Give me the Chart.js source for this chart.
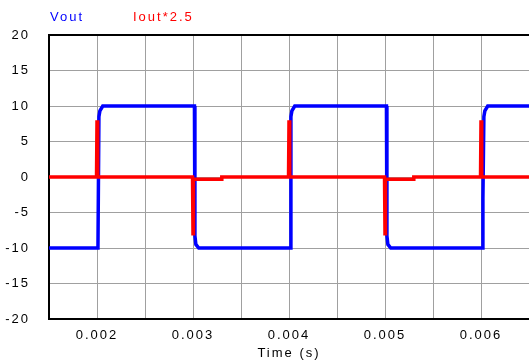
<!DOCTYPE html>
<html>
<head>
<meta charset="utf-8">
<script src="https://cdn.jsdelivr.net/npm/chart.js@4"></script>
<style>
    body { margin: 0; background: #fff; }
    #wrap { width: 529px; height: 363px; }
</style>
</head>
<body>
<div id="wrap"><canvas id="myChart" width="529" height="363"></canvas></div>
<script>
// Vout (blue) - time in seconds, value in volts
const voutTime = [0.0015, 0.00201, 0.00202, 0.00203, 0.00206, 0.003015, 0.00302, 0.00303, 0.00306,
    0.004015, 0.00402, 0.00403, 0.00406, 0.005015, 0.00502, 0.00503, 0.00506,
    0.006015, 0.00602, 0.00603, 0.00604, 0.00607, 0.0065]
const voutVal = [-10, -10, 8.5, 9.3, 10, 10, -8.3, -9.5, -10,
    -10, 8.5, 9.3, 10, 10, -8.3, -9.5, -10,
    -10, -3, 8.5, 9.3, 10, 10]

// Iout*2.5 (red)
const ioutTime = [0.0015, 0.001995, 0.002, 0.002005, 0.00201, 0.002995, 0.003, 0.003005, 0.0033, 0.0033,
    0.003995, 0.004, 0.004005, 0.00401, 0.004995, 0.005, 0.005005, 0.0053, 0.0053,
    0.005995, 0.006, 0.006005, 0.00601, 0.0065]
const ioutVal = [0, 0, 8, 2.5, 0, 0, -8, -0.3, -0.3, 0,
    0, 8, 2, 0, 0, -8, -0.3, -0.3, 0,
    0, 8, 2, 0, 0]

const xTicks = [0.0015, 0.002, 0.0025, 0.003, 0.0035, 0.004, 0.0045, 0.005, 0.0055, 0.006, 0.0065]
const xTickLabels = ['', '0.002', '', '0.003', '', '0.004', '', '0.005', '', '0.006', '']
const yTicks = [-20, -15, -10, -5, 0, 5, 10, 15, 20]

const legendItems = [
    { text: 'Vout', color: '#0000ff', x: 50 },
    { text: 'Iout*2.5', color: '#ff0000', x: 133 }
]

const FONT = '"Liberation Sans", Arial, sans-serif'

const toPoints = (xs, ys) => xs.map((x, i) => ({ x: x, y: ys[i] }))

// chu cach ra mot chut cho giong anh goc
const spacingPlugin = {
    id: 'spacing',
    beforeDraw(chart) {
        chart.ctx.letterSpacing = '2px'
    }
}

const framePlugin = {
    id: 'frame',
    afterDraw(chart) {
        const ctx = chart.ctx
        const a = chart.chartArea
        ctx.save()
        ctx.strokeStyle = '#000'
        ctx.lineWidth = 2
        ctx.beginPath()
        ctx.moveTo(a.left - 1, a.top)
        ctx.lineTo(a.right, a.top)
        ctx.stroke()
        ctx.font = '13px ' + FONT
        ctx.textBaseline = 'middle'
        ctx.textAlign = 'left'
        legendItems.forEach((t) => {
            ctx.fillStyle = t.color
            ctx.fillText(t.text, t.x, 17)
        })
        ctx.restore()
    }
}

const ctx = document.getElementById('myChart').getContext('2d')
const myChart = new Chart(ctx, {
    type: 'line',
    data: {
        datasets: [
            {
                label: 'Iout*2.5',
                data: toPoints(ioutTime, ioutVal),
                borderColor: '#ff0000',
                borderWidth: 3.5,
                pointRadius: 0,
                order: 0
            },
            {
                label: 'Vout',
                data: toPoints(voutTime, voutVal),
                borderColor: '#0000ff',
                borderWidth: 3.5,
                pointRadius: 0,
                order: 1
            }
        ]
    },
    options: {
        responsive: false,
        animation: false,
        layout: { padding: { top: 35, right: 0, left: 0, bottom: 0 } },
        plugins: {
            legend: { display: false },
            tooltip: { enabled: false }
        },
        scales: {
            x: {
                type: 'linear',
                min: 0.0015,
                max: 0.0065,
                afterBuildTicks: (s) => { s.ticks = xTicks.map(v => ({ value: v })) },
                afterFit: (s) => {
                    s.height = 44
                    s.paddingLeft = 0
                    s.paddingRight = 0
                },
                ticks: {
                    color: '#000',
                    font: { family: FONT, size: 13 },
                    padding: 9,
                    maxRotation: 0,
                    autoSkip: false,
                    callback: (v, i) => xTickLabels[i]
                },
                grid: { color: '#a0a0a0', lineWidth: 1, drawTicks: false },
                border: { color: '#000', width: 2 },
                title: {
                    display: true,
                    text: 'Time (s)',
                    color: '#000',
                    font: { family: FONT, size: 13 },
                    padding: { top: 0, bottom: 2 }
                }
            },
            y: {
                min: -20,
                max: 20,
                afterBuildTicks: (s) => { s.ticks = yTicks.map(v => ({ value: v })) },
                afterFit: (s) => { s.width = 49 },
                ticks: {
                    color: '#000',
                    font: { family: FONT, size: 13 },
                    padding: 19,
                    autoSkip: false,
                    callback: (v) => String(v)
                },
                grid: { color: '#a0a0a0', lineWidth: 1, drawTicks: false },
                border: { color: '#000', width: 2 }
            }
        }
    },
    plugins: [spacingPlugin, framePlugin]
})
</script>
</body>
</html>
